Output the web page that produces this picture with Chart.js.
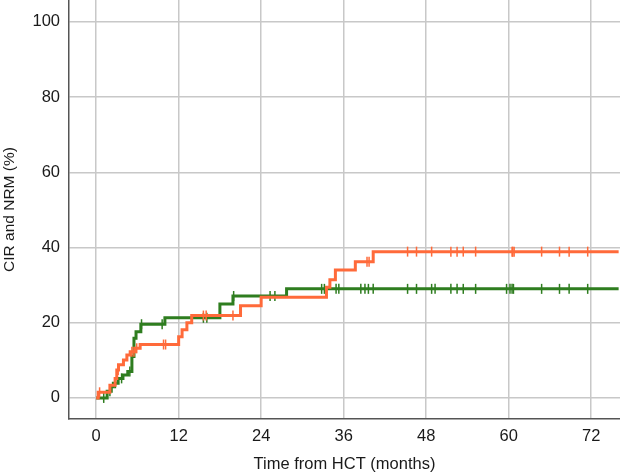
<!DOCTYPE html>
<html>
<head>
<meta charset="utf-8">
<script src="https://cdn.jsdelivr.net/npm/chart.js@4"></script>
<style>
  body { margin: 0; background: #fff; }
  canvas { display: block; }
</style>
</head>
<body>
<canvas id="cir_nrm_canvas" width="620" height="474"></canvas>
<script>
// Step curve for CIR (orange): time of each step (months) and value after the step (%)
const cirTimes  = [0, 0.3, 2.0, 2.76, 3.0, 3.25, 3.97, 4.47, 4.95, 5.67, 6.4, 12.0, 12.5, 13.2, 13.9, 21.0, 24.0, 33.5, 34.0, 34.8, 37.7, 40.3, 76];
const cirValues = [0, 1.5, 3.4, 5.2, 7.4, 8.8, 10.1, 11.4, 12.3, 13.2, 14.2, 16.3, 18.1, 20.0, 21.9, 24.5, 26.8, 29.4, 31.4, 34.0, 36.2, 38.9, 38.9];
const cirCensored = [0.5, 3.2, 5.2, 5.5, 5.9, 9.8, 10.1, 15.6, 16.0, 19.9, 39.4, 39.7, 45.3, 46.6, 48.8, 51.6, 52.5, 53.4, 55.2, 60.5, 60.6, 60.8, 64.8, 67.4, 68.8, 71.5];

// Step curve for NRM (green)
const nrmTimes  = [0, 1.6, 2.2, 2.5, 3.2, 3.9, 4.6, 5.2, 5.5, 5.8, 6.5, 10.0, 18.0, 19.9, 27.7, 76];
const nrmValues = [0, 1.8, 3.0, 3.9, 5.2, 6.1, 7.0, 11.0, 15.9, 17.6, 19.6, 21.3, 25.0, 27.1, 29.0, 29.0];
const nrmCensored = [1.1, 2.0, 2.8, 3.7, 4.9, 6.6, 9.6, 15.6, 16.1, 20.0, 25.3, 26.0, 32.8, 33.2, 34.9, 35.3, 38.5, 39.1, 39.6, 40.3, 45.3, 46.6, 48.8, 49.3, 51.6, 52.5, 53.4, 55.2, 59.7, 60.2, 60.5, 60.7, 64.8, 67.4, 68.8, 71.5];

const xTicks = [0, 12, 24, 36, 48, 60, 72];
const yTicks = [0, 20, 40, 60, 80, 100];

const ORANGE = '#ff6a3a';
const GREEN = '#2e7d1f';

// value of a step curve at time t
function stepValue(times, values, t) {
    let v = values[0];
    for (let i = 0; i < times.length; i++) {
        if (times[i] <= t) v = values[i];
    }
    return v;
}

function toPoints(times, values) {
    return times.map((t, i) => ({ x: t, y: values[i] }));
}

function censorPoints(censored, times, values) {
    return censored.map(t => ({ x: t, y: stepValue(times, values, t) }));
}

function censorDataset(data, color) {
    return {
        type: 'scatter',
        data: data,
        showLine: false,
        pointStyle: 'line',
        rotation: 90,
        pointRadius: 5,
        pointBorderWidth: 1.5,
        borderColor: color,
        backgroundColor: color,
        pointHoverRadius: 5
    };
}

let context = document.getElementById('cir_nrm_canvas').getContext('2d');

let cir_nrm_chart = new Chart(context, {
    type: 'line',
    data: {
        datasets: [{
            data: toPoints(cirTimes, cirValues),
            borderColor: ORANGE,
            borderWidth: 3,
            stepped: true,
            pointRadius: 0,
            fill: false
        },
        censorDataset(censorPoints(cirCensored, cirTimes, cirValues), ORANGE),
        {
            data: toPoints(nrmTimes, nrmValues),
            borderColor: GREEN,
            borderWidth: 3,
            stepped: true,
            pointRadius: 0,
            fill: false
        },
        censorDataset(censorPoints(nrmCensored, nrmTimes, nrmValues), GREEN)]
    },
    options: {
        responsive: false,
        animation: false,
        layout: { padding: 0, autoPadding: false },
        plugins: {
            legend: { display: false },
            tooltip: { enabled: false }
        },
        scales: {
            x: {
                type: 'linear',
                min: -3.95,
                max: 76.2,
                afterBuildTicks: scale => { scale.ticks = xTicks.map(v => ({ value: v })); },
                afterFit: scale => {
                    scale.height = 55;
                    scale.paddingLeft = 0;
                    scale.paddingRight = 0;
                },
                grid: { color: '#c8c8c8', lineWidth: 1.5, drawTicks: false },
                border: { color: '#555555', width: 1.5 },
                ticks: {
                    color: '#1a1a1a',
                    padding: 8,
                    maxRotation: 0,
                    font: { family: 'Liberation Sans', size: 16.5 }
                },
                title: {
                    display: true,
                    text: 'Time from HCT (months)',
                    color: '#1a1a1a',
                    padding: { top: 5, bottom: 0 },
                    font: { family: 'Liberation Sans', size: 16.5 }
                }
            },
            y: {
                min: -5.6,
                max: 105.8,
                afterBuildTicks: scale => { scale.ticks = yTicks.map(v => ({ value: v })); },
                afterFit: scale => {
                    scale.width = 69;
                    scale.paddingTop = 0;
                    scale.paddingBottom = 0;
                },
                grid: { color: '#c8c8c8', lineWidth: 1.5, drawTicks: false },
                border: { color: '#555555', width: 1.5 },
                ticks: {
                    color: '#1a1a1a',
                    padding: 9,
                    font: { family: 'Liberation Sans', size: 16.5 }
                },
                title: {
                    display: true,
                    text: 'CIR and NRM (%)',
                    color: '#1a1a1a',
                    padding: { top: 0, bottom: 0 },
                    font: { family: 'Liberation Sans', size: 15.5 }
                }
            }
        }
    }
});
</script>
</body>
</html>
